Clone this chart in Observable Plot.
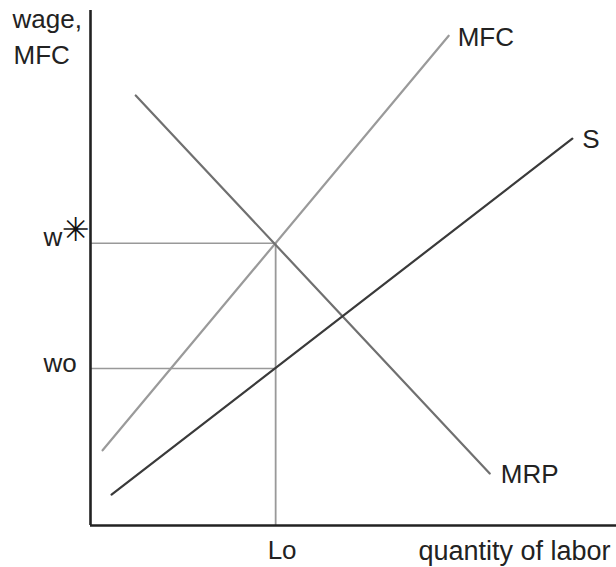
<!DOCTYPE html>
<html>
<head>
<meta charset="utf-8">
<script src="https://cdn.jsdelivr.net/npm/d3@7"></script>
<script src="https://cdn.jsdelivr.net/npm/@observablehq/plot@0.6"></script>
<style>
  html, body { margin: 0; padding: 0; background: #fff; }
  svg { display: block; }
</style>
</head>
<body>
<div id="chart"></div>
<script>
// ---- data (quantity of labor on x, wage on y, abstract units 0-100) ----
const mfcQ = [2.3, 68.1];
const mfcW = [14.6, 95.1];
const mrpQ = [8.6, 75.9];
const mrpW = [83.5, 10.1];
const supQ = [4.0, 91.6];
const supW = [6.0, 75.1];
const Lo = 35.2;      // quantity hired
const wStar = 54.8;   // w* (MFC = MRP)
const wo = 30.5;      // wage paid (on S)
const curveNames = ["MFC", "MRP", "S"];
const yLabelLines = ["wage,", "MFC"];
const xLabel = "quantity of labor";
const qTickLabel = "Lo";
const wTickLabels = ["w", "wo"];
const starGlyph = "✳";

const toPts = (qs, ws) => qs.map((q, i) => ({q, w: ws[i]}));
const mfc = toPts(mfcQ, mfcW);
const mrp = toPts(mrpQ, mrpW);
const sup = toPts(supQ, supW);

const font = "Liberation Sans, Arial, sans-serif";
const fs = 26;
const ink = "#222";

const chart = Plot.plot({
  width: 616,
  height: 567,
  marginLeft: 90,
  marginRight: 0,
  marginTop: 10,
  marginBottom: 42,
  x: {domain: [0, 100], axis: null},
  y: {domain: [0, 100], axis: null},
  style: {fontFamily: font, background: "#fff"},
  marks: [
    // guide lines
    Plot.ruleY([wStar], {x1: 0, x2: Lo, stroke: "#999", strokeWidth: 1.6}),
    Plot.ruleY([wo], {x1: 0, x2: Lo, stroke: "#999", strokeWidth: 1.6}),
    Plot.ruleX([Lo], {y1: 0, y2: wStar, stroke: "#999", strokeWidth: 1.8}),
    // curves
    Plot.line(mfc, {x: "q", y: "w", stroke: "#9a9a9a", strokeWidth: 2.2}),
    Plot.line(mrp, {x: "q", y: "w", stroke: "#707070", strokeWidth: 2.2}),
    Plot.line(sup, {x: "q", y: "w", stroke: "#3a3a3a", strokeWidth: 2.2}),
    // axes
    Plot.ruleX([0], {y1: 0, y2: 100, stroke: ink, strokeWidth: 2.6}),
    Plot.ruleY([0], {x1: 0, x2: 100, stroke: ink, strokeWidth: 2.6}),
    // curve labels
    Plot.text([mfc[1]], {x: "q", y: "w", text: () => curveNames[0], textAnchor: "start", lineAnchor: "bottom", dx: 9, dy: 10, fontSize: fs, fill: ink}),
    Plot.text([mrp[1]], {x: "q", y: "w", text: () => curveNames[1], textAnchor: "start", lineAnchor: "bottom", dx: 11, dy: 10, fontSize: fs, fill: ink}),
    Plot.text([sup[1]], {x: "q", y: "w", text: () => curveNames[2], textAnchor: "start", lineAnchor: "bottom", dx: 10, dy: 9, fontSize: fs, fill: ink}),
    // y axis title
    Plot.text([yLabelLines[0]], {x: 0, y: 100, text: d => d, textAnchor: "start", lineAnchor: "bottom", dx: -78, dy: 17, fontSize: fs, fill: ink}),
    Plot.text([yLabelLines[1]], {x: 0, y: 100, text: d => d, textAnchor: "start", lineAnchor: "bottom", dx: -77, dy: 53, fontSize: fs, fill: ink}),
    // y tick labels
    Plot.text([wStar], {x: 0, y: d => d, text: () => wTickLabels[0], textAnchor: "start", lineAnchor: "bottom", dx: -47, dy: 3, fontSize: fs, fill: ink}),
    Plot.text([wStar], {x: 0, y: d => d, text: () => starGlyph, textAnchor: "middle", lineAnchor: "middle", dx: -15, dy: -13, fontSize: 33, fontFamily: "DejaVu Sans", fill: "#111"}),
    Plot.text([wo], {x: 0, y: d => d, text: () => wTickLabels[1], textAnchor: "start", lineAnchor: "bottom", dx: -47, dy: 4, fontSize: fs, fill: ink}),
    // x tick label and title
    Plot.text([Lo], {x: d => d, y: 0, text: () => qTickLabel, textAnchor: "start", lineAnchor: "bottom", dx: -8, dy: 33, fontSize: fs, fill: ink}),
    Plot.text([xLabel], {x: 100, y: 0, text: d => d, textAnchor: "end", lineAnchor: "bottom", dx: -6, dy: 34, fontSize: 27, fill: ink})
  ]
});
document.getElementById("chart").appendChild(chart);
</script>
</body>
</html>
